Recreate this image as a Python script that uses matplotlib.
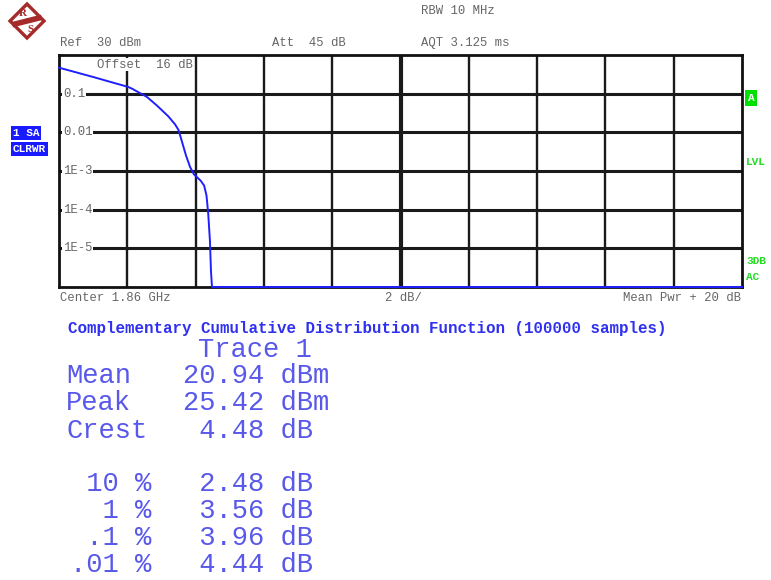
import matplotlib.pyplot as plt
from matplotlib.patches import Polygon

# CCDF trace: level above mean power (dB) vs. probability
trace_db = [0.00, 1.00, 1.70, 2.02, 2.15, 2.30, 2.57, 2.86, 3.20, 3.40, 3.50,
            3.59, 3.72, 3.84, 3.95, 4.05, 4.15, 4.25, 4.32, 4.37, 4.42, 4.45,
            4.48, 20.0]
trace_prob = [0.47, 0.27, 0.18, 0.15, 0.133, 0.112, 0.083, 0.050, 0.026,
              0.016, 0.0115, 0.0062, 0.0025, 0.00126, 0.00082, 0.00068,
              0.00056, 0.00042, 0.00023, 7.8e-5, 1.55e-5, 2.6e-6, 1e-6, 1e-6]

ytick_vals = [0.1, 0.01, 1e-3, 1e-4, 1e-5]
ytick_labels = ["0.1", "0.01", "1E-3", "1E-4", "1E-5"]

stat_names = ["Mean", "Peak", "Crest"]
stat_values = [20.94, 25.42, 4.48]
stat_units = ["dBm", "dBm", "dB"]

pct_labels = ["10", "1", ".1", ".01"]
pct_values = [2.48, 3.56, 3.96, 4.44]

W, H = 771, 580
MONO = "Liberation Mono"
GRAY = "#666666"
BLUE = "#5858ea"


def fx(px):
    return px / W


def fy(py):
    return 1 - py / H


fig = plt.figure(figsize=(W / 100, H / 100), dpi=100)
ax = fig.add_axes([fx(59), fy(287), fx(742) - fx(59), fy(55) - fy(287)])
ax.set_yscale("log")
ax.set_xlim(0, 20)
ax.set_ylim(1e-6, 1)

for x in range(2, 20, 2):
    ax.axvline(x, color="#1a1a1a", lw=3.0 if x == 10 else 1.7, zorder=1)
for y, lab in zip(ytick_vals, ytick_labels):
    ax.axhline(y, color="#1a1a1a", lw=2.2, zorder=1)
    ax.text(0.12, y, lab, family=MONO, fontsize=8.8, color=GRAY,
            va="center", ha="left", zorder=2,
            bbox=dict(facecolor="white", edgecolor="none", pad=0.5))

ax.plot(trace_db, trace_prob, color="#2020ff", lw=1.4, zorder=4, clip_on=False)

ax.text(1.1, 10 ** -0.25, "Offset  16 dB", family=MONO, fontsize=8.8,
        color=GRAY, va="center", ha="left", zorder=3,
        bbox=dict(facecolor="white", edgecolor="none", pad=0.3))

ax.set_xticks([])
ax.set_yticks([])
ax.minorticks_off()
for s in ax.spines.values():
    s.set_linewidth(2)
    s.set_color("#111111")

# header / footer annotations
small = dict(family=MONO, fontsize=8.8, color=GRAY, va="center")
fig.text(fx(421), fy(11), "RBW 10 MHz", **small)
fig.text(fx(60), fy(43), "Ref  30 dBm", **small)
fig.text(fx(272), fy(43), "Att  45 dB", **small)
fig.text(fx(421), fy(43), "AQT 3.125 ms", **small)
fig.text(fx(60), fy(298), "Center 1.86 GHz", **small)
fig.text(fx(403), fy(298), "2 dB/", ha="center", **small)
fig.text(fx(741), fy(298), "Mean Pwr + 20 dB", ha="right", **small)

# side status markers
fig.text(fx(748), fy(98), "A", family=MONO, fontsize=8, weight="bold",
         color="white", va="center",
         bbox=dict(boxstyle="square,pad=0.25", facecolor="#00e000", edgecolor="none"))
green = dict(family=MONO, fontsize=8, weight="bold", color="#22dd22", va="center")
fig.text(fx(746), fy(162), "LVL", **green)
fig.text(fx(746), fy(261), "3DB", **green)
fig.text(fx(746), fy(277), "AC", **green)
boxed = dict(family=MONO, fontsize=8, weight="bold", color="white", va="center",
             bbox=dict(boxstyle="square,pad=0.15", facecolor="#1a1aff", edgecolor="none"))
fig.text(fx(13), fy(133), "1 SA", **boxed)
fig.text(fx(13), fy(149), "CLRWR", **boxed)

# R&S logo
red = "#a52a2a"
cx, cy, r = 27, 21, 17
fig.patches.append(Polygon([(fx(cx - r), fy(cy)), (fx(cx), fy(cy - r)),
                            (fx(cx + r), fy(cy)), (fx(cx), fy(cy + r))],
                           closed=True, transform=fig.transFigure,
                           facecolor="white", edgecolor=red, lw=2.4))
fig.lines.append(plt.Line2D([fx(cx - 12), fx(cx + 12)], [fy(cy + 3), fy(cy - 3)],
                            transform=fig.transFigure, color=red, lw=4))
fig.text(fx(cx - 4), fy(cy - 7), "R", family="Liberation Serif", fontsize=8,
         color=red, ha="center", va="center", weight="bold")
fig.text(fx(cx + 4), fy(cy + 8), "S", family="Liberation Serif", fontsize=8,
         color=red, ha="center", va="center", weight="bold")

# measurement results
fig.text(fx(68), fy(328),
         "Complementary Cumulative Distribution Function (100000 samples)",
         family=MONO, fontsize=11.4, weight="bold", color="#3030f0", va="center")
big = dict(family=MONO, fontsize=19.5, color=BLUE, va="baseline")
fig.text(fx(198), fy(357), "Trace 1", **big)
for i, (name, val, unit) in enumerate(zip(stat_names, stat_values, stat_units)):
    yb = 383 + i * 27.3
    fig.text(fx(66), fy(yb), name, **big)
    fig.text(fx(182.7), fy(yb), f"{val:5.2f} {unit}", **big)
for i, (lab, val) in enumerate(zip(pct_labels, pct_values)):
    yb = 491 + i * 27
    fig.text(fx(70), fy(yb), f"{lab:>3} %", **big)
    fig.text(fx(182.7), fy(yb), f"{val:5.2f} dB", **big)

fig.savefig("out.png", dpi=100)
